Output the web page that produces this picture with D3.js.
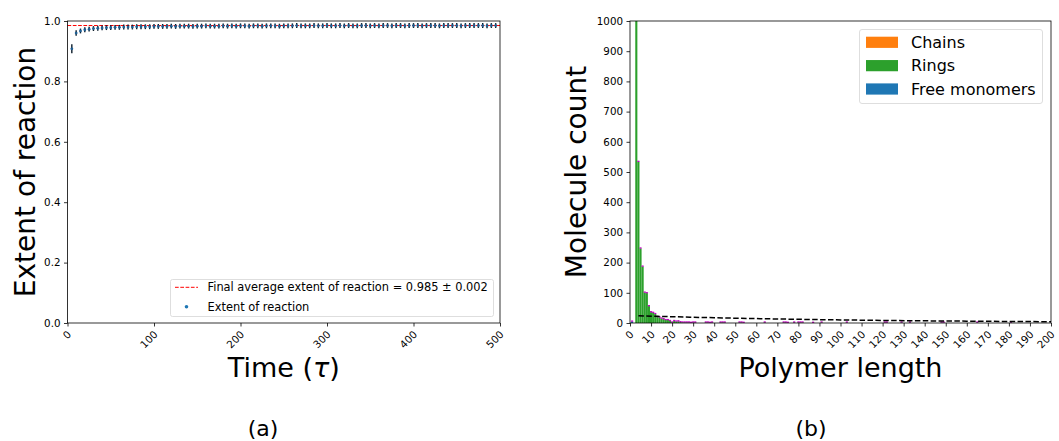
<!DOCTYPE html>
<html><head><meta charset="utf-8">
<script src="https://cdn.jsdelivr.net/npm/d3@7"></script>
<style>
body{margin:0;background:#fff}
svg{display:block}
text{font-family:"DejaVu Sans",sans-serif}
</style>
</head><body>
<svg id="c" width="1059" height="441"></svg>
<script>
// ---------- Panel (a) data ----------
const timeValues = [
  5,10,15,20,25,30,35,40,45,50,
  55,60,65,70,75,80,85,90,95,100,
  105,110,115,120,125,130,135,140,145,150,
  155,160,165,170,175,180,185,190,195,200,
  205,210,215,220,225,230,235,240,245,250,
  255,260,265,270,275,280,285,290,295,300,
  305,310,315,320,325,330,335,340,345,350,
  355,360,365,370,375,380,385,390,395,400,
  405,410,415,420,425,430,435,440,445,450,
  455,460,465,470,475,480,485,490,495];
const extentValues = [
  0.908,0.960,0.967,0.971,0.973,0.975,0.976,0.977,0.978,0.978,
  0.979,0.979,0.980,0.980,0.980,0.981,0.981,0.981,0.981,0.982,
  0.982,0.982,0.982,0.983,0.982,0.983,0.983,0.983,0.982,0.983,
  0.983,0.984,0.983,0.983,0.983,0.984,0.983,0.984,0.983,0.984,
  0.984,0.983,0.984,0.984,0.983,0.984,0.984,0.984,0.983,0.984,
  0.984,0.984,0.985,0.984,0.984,0.984,0.985,0.984,0.984,0.985,
  0.984,0.984,0.985,0.984,0.985,0.984,0.984,0.985,0.985,0.984,
  0.985,0.984,0.985,0.985,0.984,0.985,0.985,0.984,0.985,0.985,
  0.985,0.984,0.985,0.985,0.985,0.984,0.985,0.985,0.985,0.985,
  0.984,0.985,0.985,0.985,0.985,0.985,0.984,0.985,0.985];
const extentErrors = [
  0.015,0.009,0.008,0.008,0.008,0.008,0.008,0.008,0.008,0.008,
  0.008,0.008,0.008,0.008,0.008,0.008,0.008,0.008,0.008,0.008,
  0.008,0.008,0.008,0.008,0.008,0.008,0.008,0.008,0.008,0.008,
  0.008,0.008,0.008,0.008,0.008,0.008,0.008,0.008,0.008,0.008,
  0.008,0.008,0.008,0.008,0.008,0.008,0.008,0.008,0.008,0.008,
  0.008,0.008,0.008,0.008,0.008,0.008,0.008,0.008,0.008,0.008,
  0.008,0.008,0.008,0.008,0.008,0.008,0.008,0.008,0.008,0.008,
  0.008,0.008,0.008,0.008,0.008,0.008,0.008,0.008,0.008,0.008,
  0.008,0.008,0.008,0.008,0.008,0.008,0.008,0.008,0.008,0.008,
  0.008,0.008,0.008,0.008,0.008,0.008,0.008,0.008,0.008];
const finalAverage = 0.985;
const timeTicks = [0,100,200,300,400,500];
const extentTicks = [0,0.2,0.4,0.6,0.8,1.0];

// ---------- Panel (b) data ----------
const ringLengths = [3,4,5,6,7,8,9,10,11,12,13,14,15,16,17,18,19,20,21,22,23,24,25,26,27,28,29,30,31,
  36,37,38,39,43,44,45,52,53,54,64,73,74,75,78,80,81,82,87,91,103,121,122,129,133,148,149,165,181];
const ringCounts = [1350,534,247,187,101,99,56,36,34,30,20,19,15,13,10,10,7,2,7,5,6,3,2,2,2,2,1,2,2,
  2,2,1,2,2,2,2,2,2,1,2,2,2,1,2,2,2,2,1,2,2,2,2,2,2,2,2,2,2];
const monomerLengths = [1];
const monomerCounts = [5];
const chainLengths = [];
const chainCounts = [];
const fitLengths = [4,20,40,60,80,100,120,140,160,180,200];
const fitCounts = [24,20.8,17.5,14.6,12.2,10.2,8.6,7.2,6.1,5.1,4.3];
const lengthTicks = [0,10,20,30,40,50,60,70,80,90,100,110,120,130,140,150,160,170,180,190,200];
const countTicks = [0,100,200,300,400,500,600,700,800,900,1000];
const legendB = [{label:"Chains",color:"#ff7f0e"},{label:"Rings",color:"#2ca02c"},{label:"Free monomers",color:"#1f77b4"}];

const svg = d3.select("#c");

function styleAxis(g, fs){
  g.select(".domain").remove();
  g.selectAll(".tick line").attr("stroke","#000").attr("stroke-width",0.8);
  g.selectAll(".tick text").attr("fill","#000").attr("font-size",fs).attr("font-family","DejaVu Sans");
}
function rotateLabels(g){
  g.selectAll(".tick text")
    .attr("x",0).attr("y",0).attr("dy",0)
    .attr("text-anchor","end")
    .attr("transform","translate(4,12) rotate(-45)");
}

// ================= Panel (a) =================
const A = {x0:67.5, x1:500, y0:21, y1:323};
const xa = d3.scaleLinear().domain([0,500]).range([A.x0,A.x1]);
const ya = d3.scaleLinear().domain([0,1]).range([A.y1,A.y0]);

const gxa = svg.append("g").attr("transform",`translate(0,${A.y1})`)
  .call(d3.axisBottom(xa).tickValues(timeTicks).tickSize(3.5).tickPadding(3).tickFormat(d3.format("d")));
styleAxis(gxa,10.3); rotateLabels(gxa);
const gya = svg.append("g").attr("transform",`translate(${A.x0},0)`)
  .call(d3.axisLeft(ya).tickValues(extentTicks).tickSize(3.5).tickPadding(3.5).tickFormat(d3.format(".1f")));
styleAxis(gya,10.3);

svg.append("line").attr("x1",A.x0).attr("x2",A.x1).attr("y1",ya(finalAverage)).attr("y2",ya(finalAverage))
  .attr("stroke","red").attr("stroke-width",1).attr("stroke-dasharray","3.7,1.6");

const pts = timeValues.map((t,i)=>({t, v:extentValues[i], e:extentErrors[i]}));
svg.append("g").selectAll("line").data(pts).join("line")
  .attr("x1",d=>xa(d.t)).attr("x2",d=>xa(d.t))
  .attr("y1",d=>ya(d.v-d.e)).attr("y2",d=>ya(d.v+d.e))
  .attr("stroke","#0a1a28").attr("stroke-width",1.4);
svg.append("g").selectAll("circle").data(pts).join("circle")
  .attr("cx",d=>xa(d.t)).attr("cy",d=>ya(d.v)).attr("r",1.4).attr("fill","#1f5f94");

svg.append("rect").attr("x",A.x0).attr("y",A.y0).attr("width",A.x1-A.x0).attr("height",A.y1-A.y0)
  .attr("fill","none").attr("stroke","#000").attr("stroke-width",0.8);

// legend (a)
const la = svg.append("g");
la.append("rect").attr("x",170.5).attr("y",279.5).attr("width",323).attr("height",37).attr("rx",2)
  .attr("fill","#fff").attr("fill-opacity",0.8).attr("stroke","#d5d5d5").attr("stroke-width",0.8);
la.append("line").attr("x1",175).attr("x2",198).attr("y1",287.3).attr("y2",287.3)
  .attr("stroke","red").attr("stroke-width",1).attr("stroke-dasharray","3.7,1.6");
la.append("text").attr("x",207.5).attr("y",291.4).attr("font-size",11.4).text("Final average extent of reaction = 0.985 ± 0.002");
la.append("circle").attr("cx",186.5).attr("cy",306.7).attr("r",1.8).attr("fill","#1f77b4");
la.append("text").attr("x",207.5).attr("y",310.9).attr("font-size",11.4).text("Extent of reaction");

svg.append("text").attr("x",(A.x0+A.x1)/2).attr("y",377).attr("text-anchor","middle").attr("font-size",27)
  .html('Time (<tspan font-style="italic">τ</tspan>)');
svg.append("text").attr("transform",`translate(35,${(A.y0+A.y1)/2}) rotate(-90)`).attr("text-anchor","middle")
  .attr("font-size",28).text("Extent of reaction");

// ================= Panel (b) =================
const B = {x0:630, x1:1051, y0:21, y1:323};
const xb = d3.scaleLinear().domain([0,200]).range([B.x0,B.x1]);
const yb = d3.scaleLinear().domain([0,1000]).range([B.y1,B.y0]);

const gxb = svg.append("g").attr("transform",`translate(0,${B.y1})`)
  .call(d3.axisBottom(xb).tickValues(lengthTicks).tickSize(3.5).tickPadding(3).tickFormat(d3.format("d")));
styleAxis(gxb,10.3); rotateLabels(gxb);
const gyb = svg.append("g").attr("transform",`translate(${B.x0},0)`)
  .call(d3.axisLeft(yb).tickValues(countTicks).tickSize(3.5).tickPadding(3.5).tickFormat(d3.format("d")));
styleAxis(gyb,10.3);

svg.append("clipPath").attr("id","clipB").append("rect")
  .attr("x",B.x0).attr("y",B.y0).attr("width",B.x1-B.x0).attr("height",B.y1-B.y0);
const plotB = svg.append("g").attr("clip-path","url(#clipB)");

const bars = [];
monomerLengths.forEach((L,i)=>bars.push({L, c:monomerCounts[i], color:"#1f77b4"}));
ringLengths.forEach((L,i)=>bars.push({L, c:ringCounts[i], color:"#2ca02c"}));
chainLengths.forEach((L,i)=>bars.push({L, c:chainCounts[i], color:"#ff7f0e"}));

plotB.append("g").selectAll("rect").data(bars).join("rect")
  .attr("x",d=>xb(d.L-0.5)).attr("width",d=>xb(d.L+0.5)-xb(d.L-0.5))
  .attr("y",d=>yb(d.c)).attr("height",d=>yb(0)-yb(d.c)).attr("fill",d=>d.color);
plotB.append("g").selectAll("line").data(bars).join("line")
  .attr("x1",d=>xb(d.L-0.5)).attr("x2",d=>xb(d.L+0.5))
  .attr("y1",d=>yb(d.c)-0.4).attr("y2",d=>yb(d.c)-0.4)
  .attr("stroke","#c000c0").attr("stroke-width",1.3);

const fitPts = fitLengths.map((L,i)=>[xb(L), yb(fitCounts[i])]);
plotB.append("path").attr("d",d3.line().curve(d3.curveMonotoneX)(fitPts))
  .attr("fill","none").attr("stroke","#000").attr("stroke-width",1.5).attr("stroke-dasharray","5.5,2.4");

svg.append("rect").attr("x",B.x0).attr("y",B.y0).attr("width",B.x1-B.x0).attr("height",B.y1-B.y0)
  .attr("fill","none").attr("stroke","#000").attr("stroke-width",0.8);

const lb = svg.append("g");
lb.append("rect").attr("x",859.5).attr("y",29.5).attr("width",183).attr("height",74).attr("rx",2.5)
  .attr("fill","#fff").attr("fill-opacity",0.8).attr("stroke","#d5d5d5").attr("stroke-width",0.8);
legendB.forEach((d,i)=>{
  const cy = 42.3 + i*23.35;
  lb.append("rect").attr("x",866).attr("y",cy-5.6).attr("width",32).attr("height",11.2).attr("fill",d.color);
  lb.append("text").attr("x",911).attr("y",cy+5.8).attr("font-size",16).text(d.label);
});

svg.append("text").attr("x",(B.x0+B.x1)/2).attr("y",377).attr("text-anchor","middle").attr("font-size",27)
  .text("Polymer length");
svg.append("text").attr("transform",`translate(586,${(B.y0+B.y1)/2}) rotate(-90)`).attr("text-anchor","middle")
  .attr("font-size",28).text("Molecule count");

// panel labels
svg.append("text").attr("x",263).attr("y",435.5).attr("text-anchor","middle").attr("font-size",22)
  .attr("font-family","Liberation Sans, Arial, sans-serif").text("(a)");
svg.append("text").attr("x",811).attr("y",435.5).attr("text-anchor","middle").attr("font-size",22)
  .attr("font-family","Liberation Sans, Arial, sans-serif").text("(b)");
</script>
</body></html>
